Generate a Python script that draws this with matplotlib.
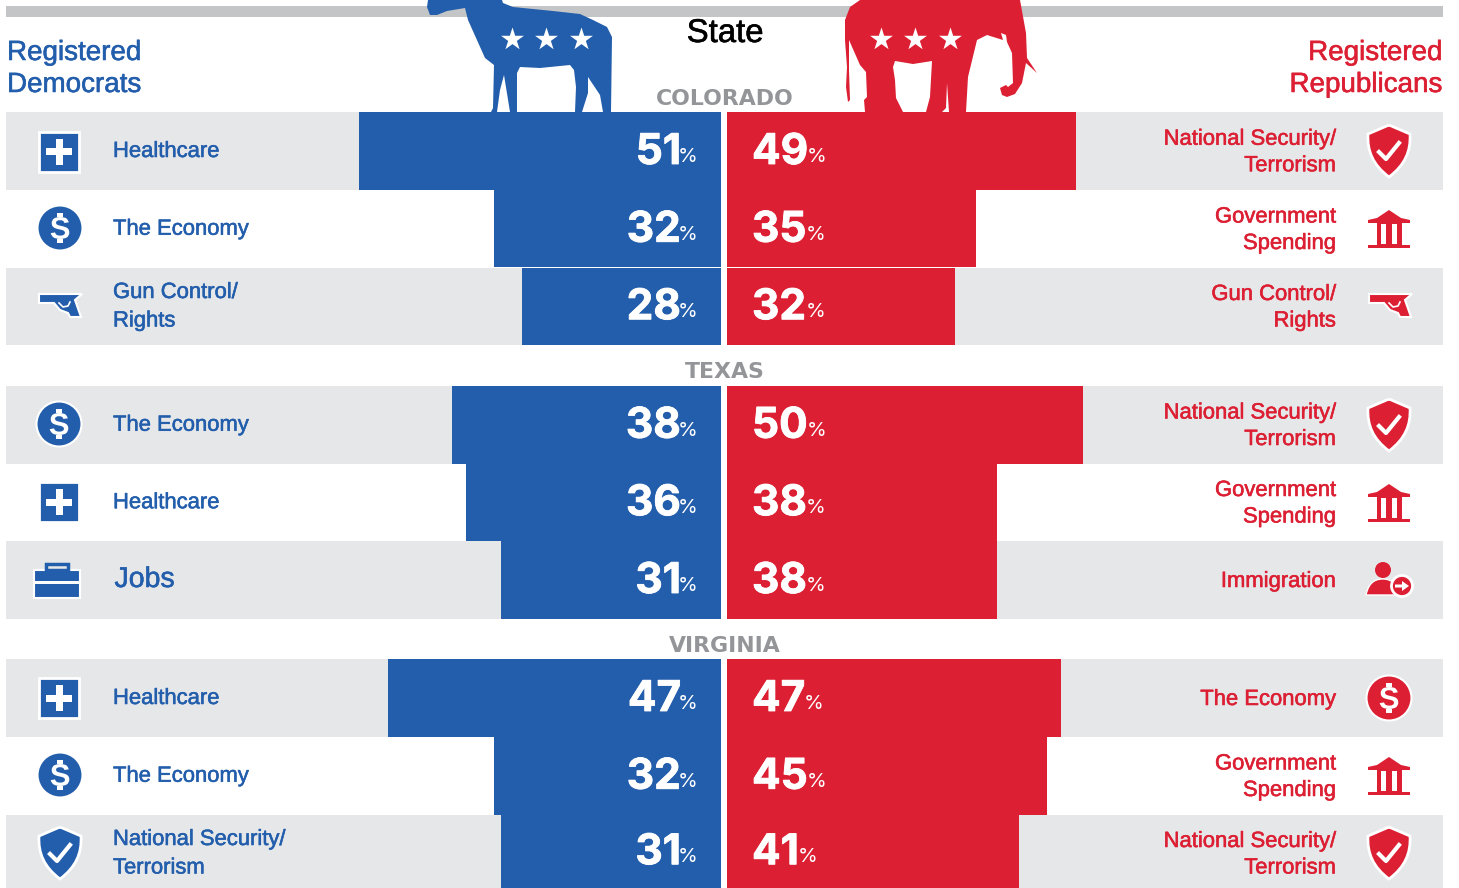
import matplotlib
matplotlib.use('Agg')
import matplotlib.pyplot as plt
import matplotlib.patheffects as pe
from matplotlib.font_manager import FontProperties
from matplotlib.patches import Rectangle, Circle, PathPatch, Polygon
from matplotlib.path import Path
from matplotlib.textpath import TextPath
from matplotlib.transforms import Affine2D

W, H = 1459, 888
BLUE = '#235eac'
RED = '#dc1f33'
BAND = '#e6e7e9'
RULE = '#c4c5c7'
GREY = '#939598'
FONT = 'Liberation Sans'
NUM = 'Inter'

states = ['COLORADO', 'TEXAS', 'VIRGINIA']
dem_issues = ['Healthcare', 'The Economy', 'Gun Control/\nRights',
              'The Economy', 'Healthcare', 'Jobs',
              'Healthcare', 'The Economy', 'National Security/\nTerrorism']
dem_values = [51, 32, 28, 38, 36, 31, 47, 32, 31]
rep_issues = ['National Security/\nTerrorism', 'Government\nSpending', 'Gun Control/\nRights',
              'National Security/\nTerrorism', 'Government\nSpending', 'Immigration',
              'The Economy', 'Government\nSpending', 'National Security/\nTerrorism']
rep_values = [49, 35, 32, 50, 38, 38, 47, 45, 41]

# pixel layout of the rows: top, bottom
rows = [(112, 190), (190, 267.5), (267.5, 345),
        (386, 463.5), (463.5, 541), (541, 619),
        (659, 737), (737, 814.5), (814.5, 888)]
state_y = [97, 370, 644]
DEM_PX_PER_PCT = 7.09
REP_PX_PER_PCT = 7.115

fig = plt.figure(figsize=(W / 100, H / 100), dpi=100)
ax = fig.add_axes([0, 0, 1, 1], zorder=1)
ax.set_xlim(0, W)
ax.set_ylim(H, 0)
ax.axis('off')


def sub_axes(x0, x1, xlim):
    a = fig.add_axes([x0 / W, 0, (x1 - x0) / W, 1], zorder=2)
    a.set_xlim(*xlim)
    a.set_ylim(H, 0)
    a.axis('off')
    return a


axd = sub_axes(6, 721, (715 / DEM_PX_PER_PCT, 0))
axr = sub_axes(727, 1443, (0, 716 / REP_PX_PER_PCT))

# grey bands and top rule
for i, (t, b) in enumerate(rows):
    if i % 3 != 1:
        ax.add_patch(Rectangle((6, t), 715, b - t, color=BAND, lw=0))
        ax.add_patch(Rectangle((727, t), 716, b - t, color=BAND, lw=0))
ax.add_patch(Rectangle((6, 6), 1437, 11, color=RULE, lw=0))

centers = [(t + b) / 2 for t, b in rows]
heights = [b - t for t, b in rows]
axd.barh(centers, dem_values, height=heights, color=BLUE, lw=0)
axr.barh(centers, rep_values, height=heights, color=RED, lw=0)

# silhouettes
donkey = [(428, 0), (427, 7), (430, 15), (437, 15), (447, 11), (465, 8), (468, 20), (485, 58),
          (494, 65), (493, 108), (491, 112), (497, 112), (500, 90), (504, 75), (510, 112),
          (517, 112), (517, 73), (520, 67), (540, 68), (570, 65), (574, 70), (576, 87),
          (575, 112), (582, 112), (588, 93), (588, 77), (600, 95), (603, 112), (611, 112),
          (612, 37), (607, 27), (593, 20), (580, 14), (553, 11), (513, 7), (503, 3), (502, 0)]
elephant = [(860, 0), (850, 7), (845, 20), (845, 40), (847, 67), (846, 87), (848, 102), (850, 100),
            (849, 70), (849, 40), (860, 65), (866, 72), (867, 97), (864, 100), (865, 112),
            (903, 112), (896, 98), (895, 80), (893, 67), (895, 61), (913, 64), (932, 61),
            (930, 97), (926, 112), (942, 112), (946, 108), (947, 83), (949, 112), (966, 112),
            (968, 77), (977, 40), (987, 35), (1003, 40), (1001, 33), (1006, 35), (1007, 42),
            (1012, 53), (1013, 83), (1008, 87), (1006, 85), (1000, 88), (1002, 95), (1007, 97),
            (1015, 94), (1022, 83), (1026, 63), (1037, 73), (1027, 58), (1026, 33), (1020, 0)]
ax.add_patch(Polygon(donkey, closed=True, color=BLUE, lw=0, zorder=3))
ax.add_patch(Polygon(elephant, closed=True, color=RED, lw=0, zorder=3))
ax.scatter([512, 546, 581, 881, 915, 950], [39] * 6, marker='*', s=300, color='white', lw=0, zorder=5)


# icons, all relative to a centre point
def plus_icon(x, y, c):
    ax.add_patch(Rectangle((x - 20, y - 20), 40, 40, fc=c, ec='white', lw=2, zorder=3))
    ax.add_patch(Rectangle((x - 13, y - 3.5), 26, 7, color='white', lw=0, zorder=4))
    ax.add_patch(Rectangle((x - 3.5, y - 13), 7, 26, color='white', lw=0, zorder=4))


def dollar_icon(x, y, c):
    ax.add_patch(Circle((x, y), 22.5, fc=c, ec='white', lw=1.5, zorder=3))
    tp = TextPath((0, 0), 'S', size=31, prop=FontProperties(family=FONT, weight='bold'))
    bb = tp.get_extents()
    tr = Affine2D().translate(-(bb.x0 + bb.x1) / 2, -(bb.y0 + bb.y1) / 2).scale(1, -1).translate(x, y)
    ax.add_patch(PathPatch(tr.transform_path(tp), color='white', lw=0, zorder=4))
    ax.add_patch(Rectangle((x - 3, y - 15), 6, 4, color='white', lw=0, zorder=4))
    ax.add_patch(Rectangle((x - 3, y + 11), 6, 4, color='white', lw=0, zorder=4))


def shield_icon(x, y, c):
    verts = [(0, -26), (-21, -17), (-22, 0), (-16, 14), (0, 26), (16, 14), (22, 0), (21, -17), (0, -26)]
    codes = [Path.MOVETO, Path.LINETO, Path.CURVE4, Path.CURVE4, Path.CURVE4,
             Path.CURVE4, Path.CURVE4, Path.CURVE4, Path.LINETO]
    ax.add_patch(PathPatch(Path([(x + a, y + b) for a, b in verts], codes), fc=c, ec='white', lw=2, zorder=3))
    ax.plot([x - 10, x - 3, x + 10], [y + 1, y + 8, y - 8], color='white', lw=3, zorder=4)


def bank_icon(x, y, c):
    ax.add_patch(Polygon([(x, y - 19), (x + 12, y - 11), (x + 21, y - 9), (x + 21, y - 6),
                          (x - 21, y - 6), (x - 21, y - 9), (x - 12, y - 11)],
                         color=c, lw=0, zorder=3))
    ax.add_patch(Rectangle((x - 12.5, y - 6), 25, 22, color=c, lw=0, zorder=3))
    for dx in (-8, 3):
        ax.add_patch(Rectangle((x + dx, y - 5), 5, 20, color='white', lw=0, zorder=4))
    ax.add_patch(Rectangle((x - 21, y + 16), 42, 3, color=c, lw=0, zorder=3))


def gun_icon(x, y, c):
    pts = [(-21, -11), (22, -11), (15, -5), (21, 12), (10, 12), (8, 8), (0, 5), (-6, -2), (-21, -2)]
    ax.add_patch(Polygon([(x + a, y + b) for a, b in pts], fc=c, ec='white', lw=1.5, zorder=3))
    ax.plot([x - 1, x + 3, x + 8, x + 10], [y - 2, y + 2, y + 1, y - 3], color='white', lw=1.2, zorder=4)


def case_icon(x, y, c):
    ax.add_patch(Rectangle((x - 23, y - 10), 46, 28, fc=c, ec='white', lw=1.5, zorder=3))
    ax.add_patch(Rectangle((x - 23, y + 1), 46, 2.5, color='white', lw=0, zorder=4))
    ax.add_patch(Rectangle((x - 11, y - 16), 22, 6, fc='none', ec=c, lw=2.5, zorder=3))


def person_icon(x, y, c):
    ax.add_patch(Circle((x - 7, y - 10), 8, color=c, lw=0, zorder=3))
    body = [(x - 24, y + 15), (x - 21, y), (x - 12, y - 1), (x - 7, y - 1),
            (x + 2, y - 1), (x + 8, y + 5), (x + 10, y + 15), (x - 24, y + 15)]
    codes = [Path.MOVETO, Path.CURVE4, Path.CURVE4, Path.CURVE4,
             Path.CURVE4, Path.CURVE4, Path.CURVE4, Path.CLOSEPOLY]
    ax.add_patch(PathPatch(Path(body, codes), fc=c, ec='white', lw=1, zorder=3))
    ax.add_patch(Circle((x + 12, y + 6), 10.5, fc=c, ec='white', lw=2, zorder=4))
    ax.add_patch(Polygon([(x + 5, y + 4.5), (x + 12, y + 4.5), (x + 12, y + 1), (x + 19, y + 6),
                          (x + 12, y + 11), (x + 12, y + 7.5), (x + 5, y + 7.5)],
                         color='white', lw=0, zorder=5))


left_icons = [(plus_icon, 59, 152), (dollar_icon, 60, 228), (gun_icon, 60, 305),
              (dollar_icon, 59, 424), (plus_icon, 59, 502), (case_icon, 57, 580),
              (plus_icon, 59, 698), (dollar_icon, 60, 775), (shield_icon, 60, 853)]
right_icons = [(shield_icon, 1389, 151), (bank_icon, 1389, 229), (gun_icon, 1390, 305),
               (shield_icon, 1389, 425), (bank_icon, 1389, 503), (person_icon, 1390, 580),
               (dollar_icon, 1389, 698), (bank_icon, 1389, 776), (shield_icon, 1389, 853)]
for f, x, y in left_icons:
    f(x, y, BLUE)
for f, x, y in right_icons:
    f(x, y, RED)


def heavier(color, w=0.4):
    return [pe.withStroke(linewidth=w, foreground=color)]


# issue labels, one text per line so the spacing is exact
def issue_text(label, x, cy, color, ha, step, size=15.85):
    lines = label.split('\n')
    top = cy - step * (len(lines) - 1) / 2
    for i, line in enumerate(lines):
        ax.text(x, top + i * step + 7, line, color=color, fontsize=size, family=FONT,
                ha=ha, va='baseline', zorder=4, path_effects=heavier(color))


for i in range(9):
    jobs = dem_issues[i] == 'Jobs'
    # the last row is cut by the image edge, its labels sit lower than the bar centre
    shift = 2 if i == 8 else 0
    issue_text(dem_issues[i], 114.5 if jobs else 113, centers[i] - 1 + shift + (1 if jobs else 0),
               BLUE, 'left', 28.5, 20.5 if jobs else 15.85)
    issue_text(rep_issues[i], 1335.5, centers[i] + shift, RED, 'right', 26.5)

# value labels
renderer = fig.canvas.get_renderer()
for i in range(9):
    y_off = -13
    axd.annotate(str(dem_values[i]), (0, centers[i]), xytext=(-40, y_off), textcoords='offset pixels',
                 color='white', fontsize=30.5, fontweight='bold', family=NUM, ha='right', va='baseline',
                 path_effects=heavier('white', 0.6))
    axd.annotate('%', (0, centers[i]), xytext=(-23, y_off + 2), textcoords='offset pixels',
                 color='white', fontsize=14.5, family=NUM, ha='right', va='baseline')
    t = axr.annotate(str(rep_values[i]), (0, centers[i]), xytext=(25, y_off), textcoords='offset pixels',
                     color='white', fontsize=30.5, fontweight='bold', family=NUM, ha='left', va='baseline',
                     path_effects=heavier('white', 0.6))
    end = t.get_window_extent(renderer).x1 - axr.transData.transform((0, 0))[0]
    axr.annotate('%', (0, centers[i]), xytext=(end - 1, y_off + 2), textcoords='offset pixels',
                 color='white', fontsize=14.5, family=NUM, ha='left', va='baseline')

# headers
for txt, x, y, ha, c in [('Registered', 7, 60, 'left', BLUE), ('Democrats', 7, 92, 'left', BLUE),
                         ('Registered', 1442, 60, 'right', RED), ('Republicans', 1442, 92, 'right', RED)]:
    ax.text(x, y, txt, color=c, fontsize=20, family=FONT, ha=ha, va='baseline', zorder=4,
            path_effects=heavier(c))
ax.text(725, 42, 'State', color='black', fontsize=23.7, family=FONT, ha='center', va='baseline', zorder=4,
        path_effects=heavier('black'))

for s, y in zip(states, state_y):
    ax.text(725, y + 8, s, color=GREY, fontsize=15.8, fontweight='bold', family='DejaVu Sans',
            ha='center', va='baseline', zorder=4)

fig.savefig('out.png', dpi=100)
